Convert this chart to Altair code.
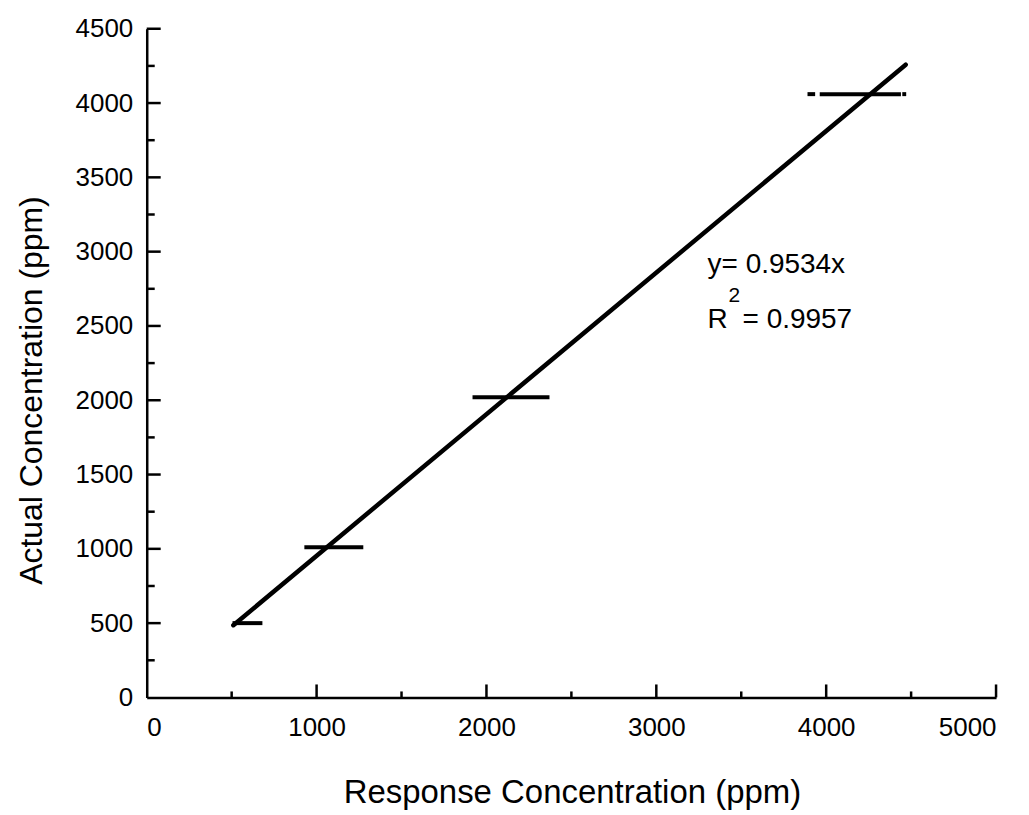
import altair as alt
import pandas as pd

# Error bar segments (horizontal): y level, start, end
seg_y = [500, 1010, 2020, 4060, 4060, 4060]
seg_xmin = [505, 928, 1918, 3890, 3962, 4448]
seg_xmax = [681, 1275, 2371, 3935, 4440, 4471]

# Fitted line endpoints
fit_x = [510, 4468]
fit_y = [486, 4258]

# Tick positions
x_major = [1000, 2000, 3000, 4000, 5000]
x_minor = [500, 1500, 2500, 3500, 4500]
y_major = [500, 1000, 1500, 2000, 2500, 3000, 3500, 4000, 4500]
y_minor = [250, 750, 1250, 1750, 2250, 2750, 3250, 3750, 4250]
x_labels = [0, 1000, 2000, 3000, 4000, 5000]
y_labels = [0, 500, 1000, 1500, 2000, 2500, 3000, 3500, 4000, 4500]

# Annotation
eq_text = "y= 0.9534x"
r_text = "R"
r_sup = "2"
r_value = "= 0.9957"
eq_x = 3302
eq_y = 2854
r_y = 2485

W, H = 851, 670
FONT = "Liberation Sans"

xscale = alt.Scale(domain=[0, 5000], nice=False, zero=False)
yscale = alt.Scale(domain=[0, 4500], nice=False, zero=False)

xaxis = alt.Axis(values=x_labels, format="d", title="Response Concentration (ppm)")
yaxis = alt.Axis(values=y_labels, format="d", title="Actual Concentration (ppm)")

segs = pd.DataFrame({"y": seg_y, "xmin": seg_xmin, "xmax": seg_xmax})
fit = pd.DataFrame({"x": fit_x, "y": fit_y})

errbars = alt.Chart(segs).mark_rule(color="black", strokeWidth=4).encode(
    x=alt.X("xmin:Q", scale=xscale, axis=xaxis),
    x2="xmax:Q",
    y=alt.Y("y:Q", scale=yscale, axis=yaxis),
)

line = alt.Chart(fit).mark_line(color="black", strokeWidth=4.5, strokeCap="round").encode(
    x=alt.X("x:Q", scale=xscale, axis=xaxis),
    y=alt.Y("y:Q", scale=yscale, axis=yaxis),
)

xmaj = alt.Chart(pd.DataFrame({"v": x_major})).mark_rule(color="black", strokeWidth=2.5).encode(
    x=alt.X("v:Q", scale=xscale, axis=xaxis), y=alt.value(H), y2=alt.value(H - 13))
xmin = alt.Chart(pd.DataFrame({"v": x_minor})).mark_rule(color="black", strokeWidth=2.5).encode(
    x=alt.X("v:Q", scale=xscale, axis=xaxis), y=alt.value(H), y2=alt.value(H - 6))
ymaj = alt.Chart(pd.DataFrame({"v": y_major})).mark_rule(color="black", strokeWidth=2.5).encode(
    y=alt.Y("v:Q", scale=yscale, axis=yaxis), x=alt.value(0), x2=alt.value(14))
ymin = alt.Chart(pd.DataFrame({"v": y_minor})).mark_rule(color="black", strokeWidth=2.5).encode(
    y=alt.Y("v:Q", scale=yscale, axis=yaxis), x=alt.value(0), x2=alt.value(8))


def label(text, xv, yv, size, dx=0, dy=0):
    return alt.Chart(pd.DataFrame({"t": [text], "x": [xv], "y": [yv]})).mark_text(
        align="left", baseline="alphabetic", fontSize=size, font=FONT, color="black",
        dx=dx, dy=dy).encode(
        x=alt.X("x:Q", scale=xscale, axis=xaxis),
        y=alt.Y("y:Q", scale=yscale, axis=yaxis),
        text="t:N")


eq1 = label(eq_text, eq_x, eq_y, 28)
eq2 = label(r_text, eq_x, r_y, 28)
eq3 = label(r_sup, eq_x, r_y, 21, dx=21, dy=-26)
eq4 = label(r_value, eq_x, r_y, 28, dx=35)

chart = alt.layer(errbars, line, xmaj, xmin, ymaj, ymin, eq1, eq2, eq3, eq4).properties(
    width=W, height=H,
    autosize=alt.AutoSizeParams(type="none"),
    padding={"left": 139, "top": 20, "right": 25, "bottom": 116},
).configure(
    background="white",
    view=alt.ViewConfig(stroke=None),
    axis=alt.AxisConfig(
        ticks=False, grid=False,
        labelFontSize=26, labelFont=FONT, labelColor="black",
        domainColor="black", domainWidth=2.5,
        titleFont=FONT, titleFontSize=33, titleFontWeight="normal", titleColor="black",
        titleBaseline="alphabetic",
    ),
    axisX=alt.AxisConfig(labelPadding=17, titleY=105, titleX=426, titleAlign="center"),
    axisY=alt.AxisConfig(labelPadding=14, titleX=-105, titleY=362, titleAlign="center",
                         titleAngle=-90, titleFontSize=32),
)

chart.save("out.html", embed_options={"renderer": "svg", "actions": False})
